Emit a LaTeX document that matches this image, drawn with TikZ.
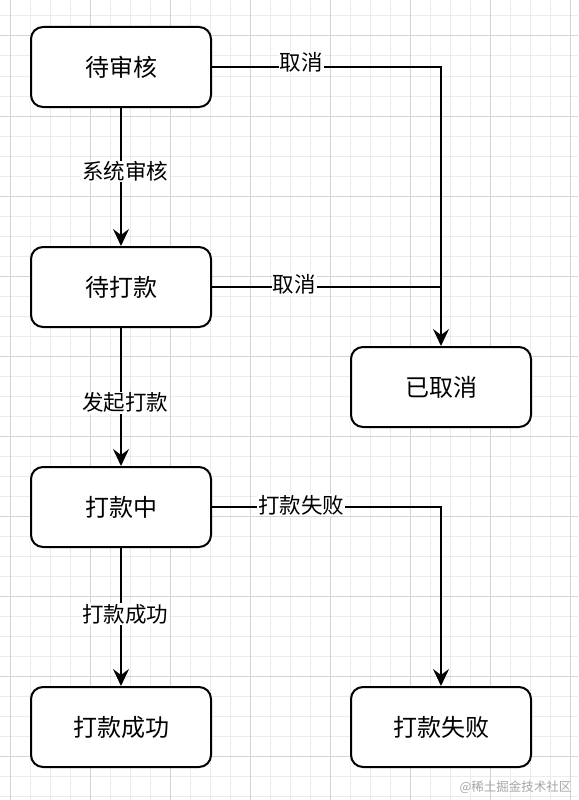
\documentclass[tikz,border=0pt]{standalone}
\usepackage{fontspec}
\newfontfamily\cjk{Noto Sans CJK SC}
\usetikzlibrary{arrows.meta}
\usetikzlibrary{positioning}

\tikzset{
  state/.style={draw=black, line width=2pt, rounded corners=12pt, fill=white,
    minimum width=180pt, minimum height=80pt, inner sep=0pt, font=\cjk\fontsize{24}{24}\selectfont},
  flow/.style={line width=2pt, -{Stealth[length=17pt, width=16pt, inset=6pt]}},
  flowline/.style={line width=2pt},
  edgelabel/.style={fill=white, inner sep=1pt, font=\cjk\fontsize{21.5}{21.5}\selectfont},
}

\begin{document}
\begin{tikzpicture}[x=1pt, y=-1pt]
\useasboundingbox (0,0) rectangle (578,800);
\fill[white] (0,0) rectangle (578,800);
% grid
\foreach \x in {10,30,...,570}
 \draw[black!8, line width=1pt] (\x,0) -- (\x,800);
\foreach \y in {16,36,...,796}
 \draw[black!8, line width=1pt] (0,\y) -- (578,\y);
\foreach \x in {10,90,...,570}
 \draw[black!17, line width=1pt] (\x,0) -- (\x,800);
\foreach \y in {36,116,...,796}
 \draw[black!17, line width=1pt] (0,\y) -- (578,\y);

% states
\node[state] (audit) at (121,67) {待审核};
\node[state] (topay) at (121,287) {待打款};
\node[state] (paying) at (121,507) {打款中};
\node[state] (paid) at (121,727) {打款成功};
\node[state] (cancel) at (441,387) {已取消};
\node[state] (failed) at (441,727) {打款失败};
\coordinate (c1) at (441,67);
\coordinate (c2) at (441,287);
\coordinate (c3) at (441,507);

% transitions
\draw[flow] (audit) -- node[edgelabel, pos=.46, xshift=4pt] {系统审核} (topay);
\draw[flow] (topay) -- node[edgelabel, pos=.54, xshift=4pt] {发起打款} (paying);
\draw[flow] (paying) -- node[edgelabel, pos=.48, xshift=4pt] {打款成功} (paid);
\draw[flow] (audit) -- node[edgelabel, pos=.39, yshift=5pt] {取消} (c1) -- (cancel);
\draw[flowline] (topay) -- node[edgelabel, pos=.36, yshift=3pt] {取消} (c2);
\draw[flow] (paying) -- node[edgelabel, pos=.39, yshift=2pt] {打款失败} (c3) -- (failed);

\node[text=black!35, font=\cjk\fontsize{12.5}{12.5}\selectfont, anchor=east] (mark) at (575,787) {@稀土掘金技术社区};
\end{tikzpicture}
\end{document}
